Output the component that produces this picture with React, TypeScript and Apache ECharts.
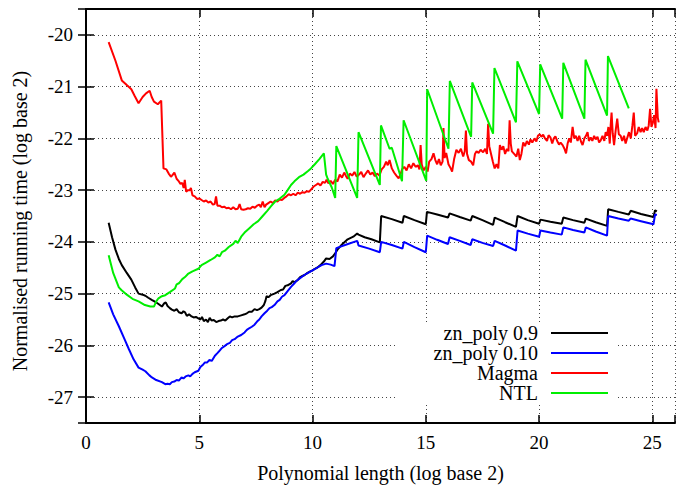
import React, { useEffect, useRef } from "react";
import * as echarts from "echarts";

const FONT = "Liberation Serif";

const seriesNames = ["zn_poly 0.9", "zn_poly 0.10", "Magma", "NTL"];
const seriesColors = ["#000000", "#0000ff", "#ff0000", "#00ee00"];

const xTitle = "Polynomial length (log base 2)";
const yTitle = "Normalised running time (log base 2)";

const znPoly09: number[][] = [
  [1.0,-23.63],[1.15,-23.91],[1.3,-24.15],[1.45,-24.33],[1.58,-24.45],[1.8,-24.6],[2.0,-24.73],[2.17,-24.88],[2.32,-25.0],[2.5,-25.02],[2.62,-25.04],[2.75,-25.08],[2.9,-25.12],[3.06,-25.16],[3.2,-25.2],[3.35,-25.25],[3.45,-25.19],[3.52,-25.17],[3.6,-25.24],[3.7,-25.28],[3.79,-25.31],[3.9,-25.33],[4.0,-25.3],[4.1,-25.36],[4.22,-25.38],[4.3,-25.34],[4.37,-25.36],[4.45,-25.43],[4.55,-25.4],[4.66,-25.44],[4.75,-25.46],[4.85,-25.45],[4.96,-25.48],[5.05,-25.5],[5.12,-25.45],[5.2,-25.53],[5.3,-25.5],[5.38,-25.55],[5.46,-25.47],[5.54,-25.52],[5.64,-25.51],[5.75,-25.55],[5.85,-25.53],[5.95,-25.52],[6.05,-25.5],[6.15,-25.52],[6.27,-25.47],[6.35,-25.44],[6.45,-25.46],[6.56,-25.44],[6.7,-25.44],[6.85,-25.42],[7.0,-25.4],[7.1,-25.38],[7.2,-25.35],[7.32,-25.35],[7.44,-25.3],[7.55,-25.32],[7.65,-25.3],[7.75,-25.27],[7.85,-25.22],[7.92,-25.14],[7.97,-25.05],[8.05,-25.07],[8.15,-25.03],[8.32,-25.0],[8.45,-24.97],[8.6,-24.93],[8.7,-24.92],[8.8,-24.85],[8.9,-24.84],[9.05,-24.8],[9.12,-24.76],[9.2,-24.78],[9.34,-24.74],[9.45,-24.68],[9.55,-24.66],[9.65,-24.64],[9.78,-24.6],[9.9,-24.57],[10.0,-24.55],[10.1,-24.52],[10.2,-24.5],[10.35,-24.45],[10.5,-24.38],[10.6,-24.32],[10.75,-24.33],[10.9,-24.28],[11.0,-24.22],[11.1,-24.15],[11.3,-24.05],[11.55,-23.95],[11.8,-23.9],[11.97,-23.84],[12.03,-23.86],[12.3,-23.91],[12.6,-23.95],[12.97,-24.01],[13.03,-23.5],[13.5,-23.56],[13.97,-23.63],[14.03,-23.5],[14.5,-23.58],[15.0,-23.66],[15.05,-23.42],[15.5,-23.47],[15.98,-23.53],[16.05,-23.45],[16.5,-23.52],[16.98,-23.59],[17.05,-23.5],[17.5,-23.58],[17.97,-23.67],[18.04,-23.53],[18.5,-23.62],[18.98,-23.71],[19.05,-23.5],[19.5,-23.58],[20.0,-23.65],[20.06,-23.57],[20.5,-23.61],[21.0,-23.65],[21.07,-23.53],[21.5,-23.58],[22.0,-23.63],[22.06,-23.55],[22.5,-23.62],[23.0,-23.69],[23.05,-23.37],[23.5,-23.42],[23.96,-23.47],[24.04,-23.4],[24.5,-23.46],[25.05,-23.52],[25.12,-23.39],[25.2,-23.41]
];

const znPoly010: number[][] = [
  [1.0,-25.17],[1.2,-25.4],[1.45,-25.63],[1.7,-25.88],[1.89,-26.07],[2.1,-26.27],[2.32,-26.43],[2.5,-26.47],[2.62,-26.5],[2.8,-26.58],[2.91,-26.62],[3.1,-26.67],[3.35,-26.71],[3.5,-26.75],[3.6,-26.74],[3.7,-26.75],[3.79,-26.71],[3.9,-26.7],[4.0,-26.67],[4.1,-26.68],[4.22,-26.62],[4.3,-26.64],[4.4,-26.6],[4.52,-26.58],[4.6,-26.6],[4.7,-26.55],[4.8,-26.52],[4.96,-26.49],[5.05,-26.42],[5.15,-26.38],[5.25,-26.33],[5.35,-26.33],[5.45,-26.28],[5.55,-26.3],[5.69,-26.2],[5.8,-26.15],[5.9,-26.1],[6.0,-26.05],[6.13,-26.01],[6.25,-25.97],[6.35,-25.95],[6.45,-25.9],[6.56,-25.88],[6.7,-25.83],[6.85,-25.8],[7.0,-25.75],[7.1,-25.7],[7.2,-25.67],[7.32,-25.64],[7.44,-25.6],[7.55,-25.54],[7.65,-25.5],[7.75,-25.44],[7.88,-25.38],[8.0,-25.33],[8.1,-25.28],[8.2,-25.26],[8.32,-25.22],[8.45,-25.15],[8.55,-25.12],[8.65,-25.06],[8.76,-25.03],[8.9,-24.95],[9.05,-24.87],[9.2,-24.8],[9.3,-24.75],[9.45,-24.7],[9.64,-24.64],[9.8,-24.6],[10.0,-24.55],[10.2,-24.5],[10.4,-24.45],[10.6,-24.42],[10.8,-24.44],[10.97,-24.47],[11.05,-24.12],[11.5,-24.05],[11.97,-23.98],[12.03,-24.07],[12.5,-24.13],[12.97,-24.2],[13.03,-24.0],[13.5,-24.06],[13.97,-24.13],[14.03,-24.0],[14.5,-24.1],[15.0,-24.2],[15.06,-23.88],[15.5,-23.96],[15.98,-24.04],[16.05,-23.91],[16.5,-23.98],[16.98,-24.06],[17.05,-23.95],[17.5,-24.02],[17.97,-24.08],[18.04,-23.98],[18.5,-24.07],[18.98,-24.17],[19.05,-23.78],[19.5,-23.84],[20.0,-23.9],[20.06,-23.78],[20.5,-23.82],[21.0,-23.86],[21.07,-23.72],[21.5,-23.77],[22.0,-23.82],[22.06,-23.72],[22.5,-23.8],[23.0,-23.88],[23.05,-23.5],[23.5,-23.55],[23.96,-23.59],[24.04,-23.55],[24.5,-23.6],[25.05,-23.66],[25.12,-23.47],[25.2,-23.48]
];

const magma: number[][] = [
  [1.0,-20.14],[1.3,-20.5],[1.58,-20.88],[1.8,-20.97],[2.0,-21.05],[2.15,-21.18],[2.32,-21.32],[2.5,-21.2],[2.65,-21.13],[2.81,-21.08],[2.9,-21.2],[3.0,-21.29],[3.17,-21.34],[3.32,-21.27],[3.42,-22.58],[3.55,-22.6],[3.65,-22.68],[3.75,-22.74],[3.8,-22.72],[3.9,-22.66],[4.0,-22.78],[4.08,-22.82],[4.17,-22.88],[4.25,-22.86],[4.31,-22.96],[4.36,-22.8],[4.42,-23.03],[4.5,-23.0],[4.58,-23.0],[4.63,-22.96],[4.7,-23.1],[4.8,-23.12],[4.9,-23.17],[5.0,-23.16],[5.1,-23.19],[5.2,-23.22],[5.3,-23.2],[5.4,-23.24],[5.5,-23.22],[5.6,-23.28],[5.68,-23.27],[5.74,-23.12],[5.8,-23.3],[5.9,-23.3],[6.0,-23.33],[6.1,-23.32],[6.2,-23.35],[6.3,-23.34],[6.4,-23.37],[6.5,-23.33],[6.6,-23.37],[6.7,-23.36],[6.78,-23.27],[6.85,-23.37],[6.95,-23.38],[7.05,-23.37],[7.15,-23.35],[7.25,-23.36],[7.35,-23.32],[7.45,-23.34],[7.55,-23.3],[7.65,-23.28],[7.72,-23.33],[7.8,-23.22],[7.88,-23.33],[7.95,-23.28],[8.05,-23.25],[8.15,-23.22],[8.25,-23.25],[8.35,-23.2],[8.45,-23.22],[8.55,-23.18],[8.65,-23.19],[8.75,-23.15],[8.85,-23.12],[8.95,-23.08],[9.05,-23.1],[9.15,-23.07],[9.25,-23.1],[9.35,-23.05],[9.45,-23.07],[9.55,-23.04],[9.65,-23.05],[9.75,-23.02],[9.85,-23.03],[9.95,-22.98],[10.05,-22.93],[10.15,-22.9],[10.25,-22.87],[10.35,-22.91],[10.45,-22.84],[10.55,-22.86],[10.62,-22.8],[10.7,-22.87],[10.8,-22.82],[10.9,-22.88],[11.0,-22.8],[11.1,-22.83],[11.2,-22.7],[11.3,-22.76],[11.4,-22.66],[11.48,-22.73],[11.55,-22.78],[11.65,-22.68],[11.75,-22.72],[11.85,-22.65],[11.95,-22.74],[12.05,-22.7],[12.15,-22.65],[12.25,-22.75],[12.35,-22.68],[12.45,-22.62],[12.55,-22.7],[12.65,-22.66],[12.75,-22.73],[12.85,-22.68],[12.95,-22.72],[13.05,-22.6],[13.15,-22.55],[13.25,-22.45],[13.32,-22.52],[13.4,-22.42],[13.5,-22.58],[13.6,-22.66],[13.7,-22.72],[13.8,-22.77],[13.88,-22.7],[13.95,-22.6],[14.05,-22.55],[14.15,-22.62],[14.25,-22.5],[14.35,-22.58],[14.45,-22.48],[14.55,-22.55],[14.65,-22.52],[14.72,-22.6],[14.77,-22.13],[14.82,-22.5],[14.9,-22.62],[15.0,-22.55],[15.08,-22.64],[15.15,-22.45],[15.25,-22.4],[15.34,-22.29],[15.42,-22.42],[15.5,-22.5],[15.58,-22.4],[15.66,-22.52],[15.74,-22.45],[15.78,-21.8],[15.83,-22.38],[15.9,-22.28],[16.0,-22.5],[16.1,-22.58],[16.16,-22.64],[16.25,-22.4],[16.35,-22.22],[16.45,-22.28],[16.55,-22.2],[16.65,-22.35],[16.72,-22.25],[16.77,-21.85],[16.82,-22.3],[16.9,-22.42],[17.0,-22.45],[17.09,-22.52],[17.17,-22.3],[17.24,-22.25],[17.33,-22.28],[17.42,-22.22],[17.53,-22.27],[17.62,-22.2],[17.7,-22.3],[17.75,-21.72],[17.8,-22.15],[17.88,-22.3],[17.96,-22.45],[18.04,-22.58],[18.12,-22.5],[18.2,-22.58],[18.27,-22.13],[18.35,-22.22],[18.42,-22.15],[18.5,-22.3],[18.58,-22.2],[18.65,-22.25],[18.7,-21.65],[18.75,-22.1],[18.8,-22.25],[18.9,-22.3],[19.0,-22.35],[19.08,-22.2],[19.15,-22.42],[19.22,-22.3],[19.3,-22.08],[19.38,-22.15],[19.46,-22.05],[19.55,-22.12],[19.62,-22.02],[19.7,-22.08],[19.8,-22.0],[19.88,-22.06],[19.95,-21.95],[20.03,-21.92],[20.1,-21.97],[20.18,-21.93],[20.26,-22.0],[20.35,-22.05],[20.42,-21.94],[20.5,-21.98],[20.58,-22.1],[20.65,-22.0],[20.72,-21.96],[20.8,-22.05],[20.88,-22.12],[20.95,-22.08],[21.04,-22.13],[21.12,-22.2],[21.19,-22.29],[21.26,-22.1],[21.33,-22.0],[21.4,-22.08],[21.48,-21.78],[21.55,-22.0],[21.62,-21.95],[21.7,-22.05],[21.77,-21.95],[21.85,-22.06],[21.92,-22.13],[22.0,-22.0],[22.07,-21.95],[22.14,-21.88],[22.2,-22.05],[22.28,-21.98],[22.35,-22.05],[22.43,-21.95],[22.5,-22.02],[22.58,-21.97],[22.65,-22.08],[22.72,-22.04],[22.8,-21.95],[22.88,-22.05],[22.94,-21.88],[23.0,-21.95],[23.06,-21.78],[23.12,-22.1],[23.16,-21.75],[23.2,-21.5],[23.25,-21.9],[23.31,-22.13],[23.38,-21.85],[23.45,-21.62],[23.52,-21.92],[23.6,-21.95],[23.67,-22.05],[23.75,-21.95],[23.82,-22.1],[23.9,-21.98],[23.97,-21.88],[24.05,-22.0],[24.12,-21.75],[24.18,-21.5],[24.24,-21.95],[24.33,-21.9],[24.4,-21.78],[24.48,-21.88],[24.55,-21.8],[24.62,-21.88],[24.7,-21.78],[24.78,-21.85],[24.84,-21.75],[24.9,-21.43],[24.96,-21.78],[25.02,-21.7],[25.08,-21.55],[25.14,-21.8],[25.18,-21.04],[25.24,-21.6],[25.28,-21.69]
];

const ntl: number[][] = [
  [1.0,-24.26],[1.2,-24.6],[1.45,-24.88],[1.56,-24.93],[1.8,-25.02],[2.05,-25.1],[2.32,-25.15],[2.6,-25.22],[2.84,-25.25],[3.0,-25.25],[3.1,-25.15],[3.2,-25.09],[3.35,-25.05],[3.5,-25.03],[3.7,-24.97],[3.93,-24.9],[4.0,-24.82],[4.1,-24.8],[4.25,-24.72],[4.37,-24.68],[4.5,-24.62],[4.7,-24.57],[4.96,-24.52],[5.1,-24.45],[5.3,-24.4],[5.5,-24.35],[5.69,-24.3],[5.8,-24.25],[5.9,-24.28],[6.0,-24.2],[6.13,-24.17],[6.3,-24.1],[6.5,-24.04],[6.6,-23.98],[6.7,-24.02],[6.85,-23.9],[7.0,-23.82],[7.2,-23.74],[7.4,-23.66],[7.6,-23.6],[7.8,-23.5],[8.0,-23.4],[8.17,-23.31],[8.35,-23.22],[8.5,-23.18],[8.76,-23.09],[8.9,-23.0],[9.05,-22.9],[9.2,-22.83],[9.4,-22.75],[9.6,-22.7],[9.8,-22.63],[9.93,-22.58],[10.1,-22.5],[10.3,-22.4],[10.5,-22.29],[10.6,-22.7],[10.66,-22.77],[10.85,-22.95],[11.0,-23.15],[11.05,-22.15],[11.97,-23.15],[12.03,-21.88],[12.97,-22.9],[13.02,-21.75],[13.4,-22.2],[13.5,-22.18],[13.95,-22.83],[14.02,-21.65],[15.02,-22.82],[15.06,-21.05],[16.0,-22.2],[16.06,-20.89],[17.0,-21.97],[17.05,-20.92],[17.97,-21.91],[18.03,-20.64],[18.98,-21.69],[19.04,-20.51],[20.0,-21.53],[20.05,-20.57],[21.02,-21.62],[21.07,-20.54],[22.0,-21.62],[22.05,-20.48],[23.0,-21.56],[23.04,-20.41],[23.96,-21.42]
];

const seriesData = [znPoly09, znPoly010, magma, ntl];

export default function App() {
  const ref = useRef<HTMLDivElement>(null);
  useEffect(() => {
    if (!ref.current) return;
    const chart = echarts.init(ref.current, undefined, { renderer: "svg" });
    const gridLine = { show: true, lineStyle: { color: "#444", width: 1, type: [1, 3] as any } };
    const axisLine = { show: true, lineStyle: { color: "#000", width: 2 } };
    const tick = { show: true, inside: true, length: 8, lineStyle: { color: "#000", width: 1.5 } };
    const labelStyle = { color: "#000", fontFamily: FONT, fontSize: 19 };
    const titleStyle = { color: "#000", fontFamily: FONT, fontSize: 20 };
    chart.setOption({
      animation: false,
      backgroundColor: "#fff",
      textStyle: { fontFamily: FONT },
      grid: { left: 86, right: -1, top: 9, bottom: 60, containLabel: false },
      legend: {
        orient: "vertical",
        right: 70,
        top: 323,
        align: "right",
        padding: 0,
        itemGap: 0,
        itemWidth: 57,
        itemHeight: 2,
        icon: "rect",
        selectedMode: false,
        data: seriesNames,
        textStyle: { ...titleStyle, lineHeight: 20, padding: [0, 8, 0, 0] },
        z: 10,
      },
      graphic: {
        elements: [
          { type: "rect", z: 1, shape: { x: 395, y: 323, width: 223, height: 81 }, style: { fill: "#fff" } },
        ],
      },
      xAxis: [
        {
          type: "value", min: 0, max: 26, interval: 5, position: "bottom",
          axisLine, axisTick: tick, splitLine: gridLine,
          axisLabel: { ...labelStyle, margin: 10, formatter: (v: number) => (v % 5 === 0 ? String(v) : "") },
          name: xTitle, nameLocation: "middle", nameGap: 40,
          nameTextStyle: { ...titleStyle },
        },
        {
          type: "value", min: 0, max: 26, interval: 5, position: "top",
          axisLine, axisTick: tick, splitLine: { show: false }, axisLabel: { show: false },
        },
      ],
      yAxis: [
        {
          type: "value", min: -27.5, max: -19.5, splitNumber: 8, minInterval: 1, maxInterval: 1, position: "left",
          axisLine, axisTick: tick, splitLine: gridLine,
          axisLabel: { ...labelStyle, margin: 13, formatter: (v: number) => (Number.isInteger(v) ? String(v) : "") },
          name: yTitle, nameLocation: "middle", nameGap: 56,
          nameTextStyle: { ...titleStyle, padding: [0, 10, 0, 0] },
        },
        {
          type: "value", min: -27.5, max: -19.5, splitNumber: 8, minInterval: 1, maxInterval: 1, position: "right",
          axisLine, axisTick: tick, splitLine: { show: false }, axisLabel: { show: false },
        },
      ],
      series: seriesNames.map((name, i) => ({
        name,
        type: "line",
        data: seriesData[i],
        symbol: "none",
        showSymbol: false,
        xAxisIndex: 0,
        yAxisIndex: 0,
        color: seriesColors[i],
        lineStyle: { color: seriesColors[i], width: 2 },
        z: 3,
      })),
    });
    return () => chart.dispose();
  }, []);
  return <div ref={ref} style={{ width: 678, height: 488, position: "fixed", left: 0, top: 0 }} />;
}
